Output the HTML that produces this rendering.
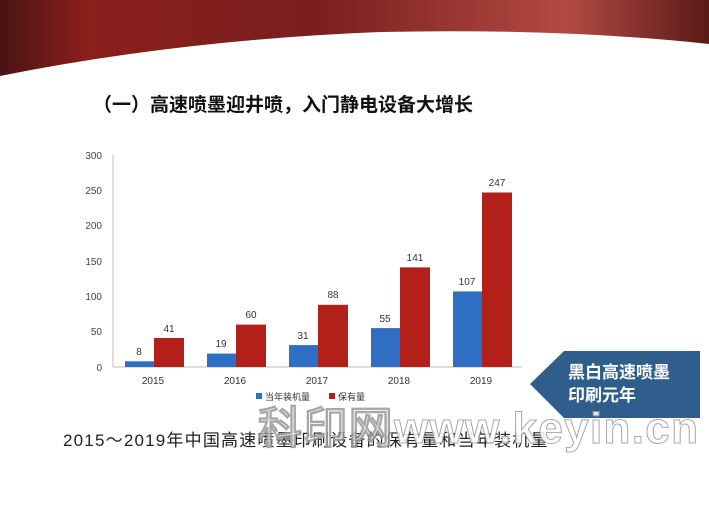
<!DOCTYPE html>
<html><head><meta charset="utf-8"><style>
body{margin:0;width:709px;height:531px;overflow:hidden;background:#fff;font-family:"Liberation Sans","Noto Sans CJK SC",sans-serif;}
</style></head><body>
<svg width="709" height="531" xmlns="http://www.w3.org/2000/svg" style="position:absolute;left:0;top:0">
<defs>
<linearGradient id="g" x1="0" y1="0" x2="1" y2="0">
<stop offset="0" stop-color="#4a1414"/><stop offset="0.12" stop-color="#8a1f1c"/><stop offset="0.45" stop-color="#7a1f1d"/><stop offset="0.8" stop-color="#b34a42"/><stop offset="1" stop-color="#5a1a18"/>
</linearGradient>
</defs>
<path d="M0,0 H709 V44 Q560,28 380,32 Q180,40 0,76 Z" fill="url(#g)"/>
<text x="93" y="111" font-size="19" font-weight="bold" fill="#111" font-family="'Noto Sans CJK SC',sans-serif">（一）高速喷墨迎井喷，入门静电设备大增长</text>
<g font-size="10" fill="#444" text-anchor="end" font-family="'Liberation Sans',sans-serif">
<text x="102" y="159">300</text><text x="102" y="194">250</text><text x="102" y="229">200</text><text x="102" y="265">150</text><text x="102" y="300">100</text><text x="102" y="335">50</text><text x="102" y="371">0</text>
</g>
<line x1="113" y1="155" x2="113" y2="367" stroke="#bbb"/>
<line x1="113" y1="367" x2="522" y2="367" stroke="#bbb"/>
<g fill="#2e6fc4">
<rect x="125" y="361.3" width="29" height="5.7"/>
<rect x="207" y="353.6" width="29" height="13.4"/>
<rect x="289" y="345.1" width="29" height="21.9"/>
<rect x="371" y="328.1" width="29" height="38.9"/>
<rect x="453" y="291.4" width="29" height="75.6"/>
</g>
<g fill="#b3201a">
<rect x="154" y="338" width="30" height="29"/>
<rect x="236" y="324.6" width="30" height="42.4"/>
<rect x="318" y="304.8" width="30" height="62.2"/>
<rect x="400" y="267.4" width="30" height="99.6"/>
<rect x="482" y="192.5" width="30" height="174.5"/>
</g>
<g font-size="10" fill="#333" text-anchor="middle">
<text x="139" y="355">8</text><text x="169" y="332">41</text>
<text x="221" y="347">19</text><text x="251" y="318">60</text>
<text x="303" y="339">31</text><text x="333" y="298">88</text>
<text x="385" y="322">55</text><text x="415" y="261">141</text>
<text x="467" y="285">107</text><text x="497" y="186">247</text>
<text x="153" y="384">2015</text><text x="235" y="384">2016</text><text x="317" y="384">2017</text><text x="399" y="384">2018</text><text x="481" y="384">2019</text>
</g>
<rect x="256" y="393" width="6" height="6" fill="#2e6fc4"/>
<text x="265" y="400" font-size="9" fill="#333">当年装机量</text>
<rect x="329" y="393" width="6" height="6" fill="#b3201a"/>
<text x="338" y="400" font-size="9" fill="#333">保有量</text>
<path d="M530,384 L564,351 H700 V418 H564 Z" fill="#2f5d8c"/>
<text x="568" y="378" font-size="17" font-weight="bold" fill="#fff">黑白高速喷墨</text>
<text x="568" y="401" font-size="17" font-weight="bold" fill="#fff">印刷元年</text>
<text x="63" y="446" font-size="17" fill="#222" letter-spacing="1.2">2015～2019年中国高速喷墨印刷设备的保有量和当年装机量</text>
<text x="258" y="443" font-size="44" font-weight="bold" fill="#fff" stroke="#999" stroke-width="1" opacity="0.85" textLength="440" font-family="'Liberation Sans',sans-serif">科印网www.keyin.cn</text>
</svg>
</body></html>
